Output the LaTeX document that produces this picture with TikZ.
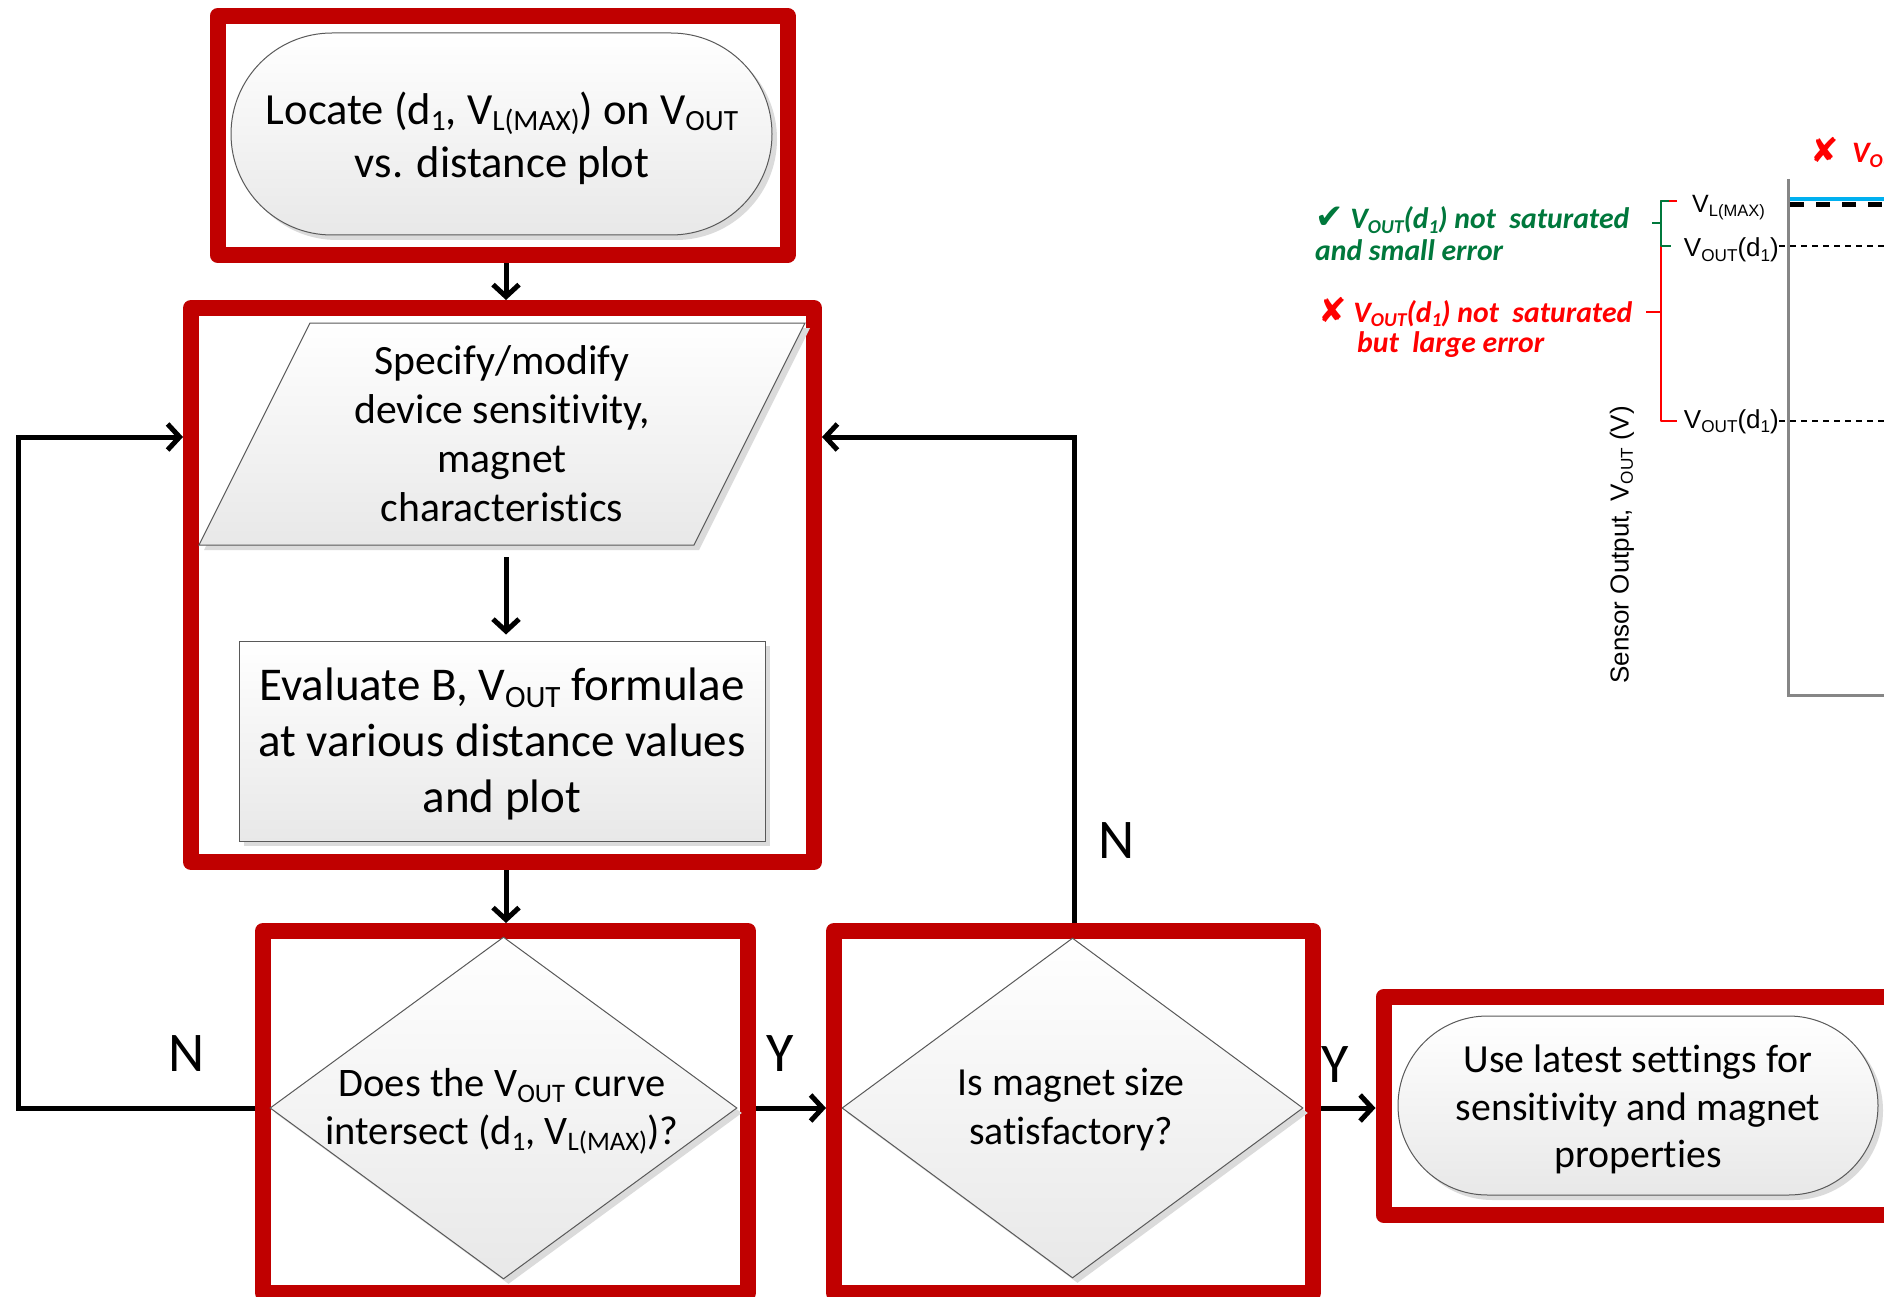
\documentclass[tikz,border=0pt]{standalone}
\usepackage{fontspec}
\setmainfont{Carlito}[Ligatures=NoCommon]
\newfontfamily\arialf{Liberation Sans}
\newfontfamily\symf{DejaVu Sans}
\usepackage{graphicx}
\usetikzlibrary{arrows.meta,shadows,shapes.geometric,calc}
\definecolor{frame}{RGB}{192,0,0}
\definecolor{okgreen}{RGB}{0,120,60}
\definecolor{badred}{RGB}{255,0,0}
\definecolor{axisgray}{RGB}{134,134,134}
\definecolor{curveblue}{RGB}{0,176,240}
\newcommand\sbx[1]{\raisebox{-0.3ex}{\scalebox{0.66}{#1}}}
\begin{document}
\begin{tikzpicture}[x=1pt,y=-1pt,
  redframe/.style={draw=frame, line width=16pt, line join=round, inner sep=0pt, rectangle},
  shapebox/.style={draw=black!65, line width=1pt, top color=white, bottom color=black!9,
    drop shadow={shadow xshift=5pt, shadow yshift=-5pt, fill=black!14, opacity=1}},
  arr/.style={line width=5pt, -{Straight Barb[length=12pt,width=26pt,line width=5pt]}},
  flowtext/.style={align=center, inner sep=0pt},
  lbl/.style={font=\fontsize{56}{56}\selectfont, inner sep=0pt},
  plotlbl/.style={font=\arialf\fontsize{25}{25}\selectfont, inner sep=0pt},
  note/.style={font=\bfseries\itshape\fontsize{29.7}{32}\selectfont, inner sep=0pt, anchor=base west}
]
\useasboundingbox (0,0) rectangle (1884,1297);
\fill[white] (0,0) rectangle (1884,1297);
\clip (0,0) rectangle (1884,1297);

% ---------- red highlight frames ----------
\node[redframe, minimum width=570pt, minimum height=239pt] (f1) at (502.5,135.5) {};
\node[redframe, minimum width=623pt, minimum height=554pt] (f2) at (502.5,585) {};
\node[redframe, minimum width=485pt, minimum height=362pt] (f3) at (505.5,1112) {};
\node[redframe, minimum width=479pt, minimum height=362pt] (f4) at (1073.5,1112) {};
\node[redframe, minimum width=517pt, minimum height=218pt] (f5) at (1642,1106) {};

% ---------- flowchart shapes ----------
\node[shapebox, rectangle, rounded corners=101pt, minimum width=541pt, minimum height=202pt] (t1) at (501.5,134) {};
\node[flowtext, font=\fontsize{44.5}{53}\selectfont] (t1t) at (502,138)
  {Locate (d\sbx{1}, V\sbx{L(MAX)}) on V\sbx{OUT}\\vs. distance plot};

\path[shapebox] (310,323) -- (805,323) -- (694,545) -- (199,545) -- cycle;
\node[flowtext, minimum height=222pt, font=\fontsize{41.7}{49}\selectfont] (par) at (502,434)
  {Specify/modify\\device sensitivity,\\magnet\\characteristics};

\node[shapebox, rectangle, minimum width=526pt, minimum height=200pt] (proc) at (502,741) {};
\node[flowtext, font=\fontsize{47}{56}\selectfont] (proct) at (502,744)
  {Evaluate B, V\sbx{OUT} formulae\\at various distance values\\and plot};

\node[shapebox, diamond, minimum width=467pt, minimum height=342pt, inner sep=0pt] (d1) at (503.5,1108) {};
\node[flowtext, font=\fontsize{40.5}{48}\selectfont] (d1t) at (502,1111)
  {Does the V\sbx{OUT} curve\\intersect (d\sbx{1}, V\sbx{L(MAX)})?};

\node[shapebox, diamond, minimum width=461pt, minimum height=340pt, inner sep=0pt] (d2) at (1072.5,1108) {};
\node[flowtext, font=\fontsize{39.8}{49}\selectfont] (d2t) at (1071,1109.5)
  {Is magnet size\\satisfactory?};

\node[shapebox, rectangle, rounded corners=89.5pt, minimum width=480pt, minimum height=179pt] (t2) at (1638,1105.5) {};
\node[flowtext, font=\fontsize{39.8}{47.5}\selectfont] (t2t) at (1638,1109.5)
  {Use latest settings for\\sensitivity and magnet\\properties};

% ---------- connectors ----------
\coordinate (ax) at (506,0);
\coordinate (lc) at (18,437);
\coordinate (rc) at (1074,437);
\draw[arr] (f1.south -| ax) -- (f2.north -| ax);
\draw[arr] ([yshift=-12pt]par.south -| ax) -- ([yshift=6pt]proc.north -| ax);
\draw[arr] (f2.south -| ax) -- (f3.north -| ax);
\draw[arr] (f3.east |- d1) -- (f4.west |- d1);
\draw[arr] (f4.east |- d1) -- (f5.west |- d1);
\draw[arr] (f3.west |- d1) -| (lc) -- (f2.west |- lc);
\draw[arr] (f4.north -| rc) -- (rc) -- (f2.east |- rc);

\node[lbl] (n1) at (187,1054) {N};
\node[lbl] (y1) at (780,1054) {Y};
\node[lbl] (n2) at (1117,841) {N};
\node[lbl] (y2) at (1335,1065) {Y};

% ---------- plot ----------
\draw[curveblue, line width=4pt] (1788,199) -- (1900,199);
\draw[black, line width=5pt, dash pattern=on 14pt off 12pt] (1790,205) -- (1900,205);
\draw[black, line width=1.5pt, dash pattern=on 6pt off 5pt] (1779,246) -- (1900,246);
\draw[black, line width=1.5pt, dash pattern=on 6pt off 5pt] (1779,421) -- (1900,421);
\draw[axisgray, line width=3pt] (1788,179) -- (1788,695) -- (1900,695);

\node[plotlbl, anchor=base west] (vl) at (1692,213) {V\sbx{L(MAX)}};
\node[plotlbl, anchor=base east, font=\arialf\fontsize{26}{26}\selectfont] (vo1) at (1779,257) {V\sbx{OUT}(d\sbx{1})};
\node[plotlbl, anchor=base east, font=\arialf\fontsize{26}{26}\selectfont] (vo2) at (1779,428) {V\sbx{OUT}(d\sbx{1})};
\node[plotlbl, rotate=90, font=\arialf\fontsize{26}{26}\selectfont] (ylab) at (1622,545) {Sensor Output, V\sbx{OUT} (V)};

% braces
\draw[badred, line width=1.6pt, line join=round] (1677,201) -- (1661,201) -- (1661,312) -- (1646,312);
\draw[badred, line width=1.6pt, line join=round] (1661,312) -- (1661,421) -- (1677,421);
\draw[okgreen, line width=1.6pt, line join=round] (1669,201) -- (1661,201) -- (1661,223) -- (1652,223);
\draw[okgreen, line width=1.6pt, line join=round] (1661,223) -- (1661,246) -- (1671,246);

\node[note, text=okgreen] (g1) at (1315,229) {{\symf\bfseries\fontsize{34}{34}\selectfont ✔}\ V\sbx{OUT}(d\sbx{1}) not\ \ saturated};
\node[note, text=okgreen] (g2) at (1315,261) {and small error};
\node[note, text=badred] (r1) at (1318,322) {{\symf\bfseries\fontsize{34}{34}\selectfont ✘}\ V\sbx{OUT}(d\sbx{1}) not\ \ saturated};
\node[note, text=badred] (r2) at (1357,352) {but\ \ large error};
\node[note, text=badred] (r0) at (1810,163) {{\symf\bfseries\fontsize{34}{34}\selectfont ✘}\ \ V\sbx{OUT}};
\end{tikzpicture}
\end{document}
